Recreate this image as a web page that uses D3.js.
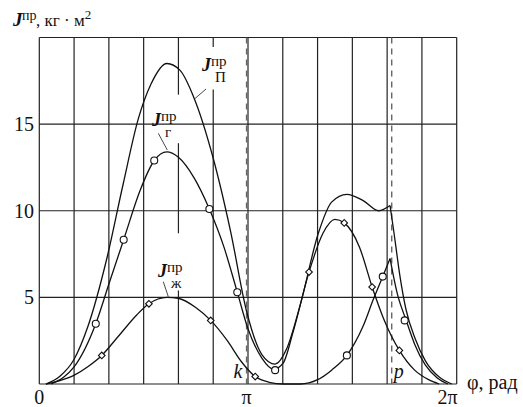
<!DOCTYPE html>
<html>
<head>
<meta charset="utf-8">
<script src="https://cdn.jsdelivr.net/npm/d3@7"></script>
<style>
  body { margin: 0; background: #fff; }
  svg text { font-family: "Liberation Serif", Tinos, "Times New Roman", "DejaVu Serif", serif; fill: #111; }
</style>
</head>
<body>
<script>
var width = 523;
var height = 407;

// J_пр_П (upper curve), phi in rad, J in kg*m^2
var jpPhi = [0.10, 0.31, 0.52, 0.73, 1.02, 1.26, 1.49, 1.68, 1.92, 2.12, 2.32, 2.62, 2.88, 3.12, 3.35, 3.55, 3.72, 3.93, 4.20, 4.40, 4.63, 4.87, 5.11, 5.28, 5.34, 5.43, 5.52, 5.66, 5.81, 6.02, 6.21];
var jpVal = [0, 0.45, 1.4, 3.3, 7.3, 11.5, 15.3, 17.3, 18.5, 18.1, 16.6, 13.0, 8.8, 4.2, 1.7, 1.15, 2.0, 4.6, 8.7, 10.5, 10.95, 10.6, 10.0, 10.3, 8.7, 6.2, 4.3, 2.6, 1.35, 0.4, 0];

// J_пр_г (middle curve)
var jgPhi = [0.18, 0.37, 0.52, 0.85, 1.05, 1.27, 1.52, 1.73, 1.92, 2.09, 2.33, 2.56, 2.78, 2.98, 3.14, 3.35, 3.53, 3.67, 3.82, 4.06, 4.27, 4.45, 4.59, 4.82, 5.01, 5.18, 5.42, 5.65, 5.86, 6.02];
var jgVal = [0, 0.4, 0.97, 3.48, 5.8, 8.33, 11.2, 12.9, 13.4, 13.1, 11.9, 10.1, 7.9, 5.3, 3.2, 1.5, 0.85, 1.2, 3.0, 6.46, 8.7, 9.5, 9.3, 7.9, 5.6, 3.8, 1.94, 0.8, 0.25, 0];

// J_пр_ж (lower curve)
var jzPhi = [0.10, 0.31, 0.52, 0.73, 0.94, 1.20, 1.47, 1.65, 1.92, 2.09, 2.36, 2.58, 2.83, 3.04, 3.25, 3.46, 3.67, 3.93, 4.19, 4.40, 4.63, 4.87, 5.03, 5.17, 5.28, 5.39, 5.52, 5.65, 5.81, 5.99, 6.15];
var jzVal = [0, 0.2, 0.5, 1.0, 1.65, 2.8, 4.0, 4.63, 5.0, 4.95, 4.4, 3.67, 2.5, 1.3, 0.43, 0.1, 0, 0, 0.25, 0.8, 1.65, 3.3, 4.9, 6.2, 7.24, 5.2, 3.7, 2.3, 1.1, 0.35, 0];

// sharp peaks at the p position
var cuspPhi = 5.28;

// marked points
var circlePhi = [0.85, 1.27, 1.73, 2.56, 2.98, 3.55, 4.63, 5.17, 5.50];
var circleVal = [3.48, 8.33, 12.9, 10.1, 5.3, 0.8, 1.65, 6.2, 3.67];
var diamondPhi = [0.94, 1.65, 2.58, 3.25, 4.06, 4.59, 5.01, 5.42];
var diamondVal = [1.65, 4.63, 3.67, 0.43, 6.46, 9.3, 5.6, 1.94];

// dashed positions k and p
var markNames = ['k', 'p'];
var markPhi = [3.12, 5.305];

// ticks
var yTicks = [5, 10, 15];
var xTickVals = [0, Math.PI, 2 * Math.PI];
var xTickLabels = ['0', 'π', '2π'];

var x = d3.scaleLinear().domain([0, 2 * Math.PI]).range([39.3, 456.7]);
var y = d3.scaleLinear().domain([0, 20]).range([384, 37.5]);

var svg = d3.select('body').append('svg')
    .attr('width', width)
    .attr('height', height)
    .attr('font-family', '"Liberation Serif", Tinos, "Times New Roman", "DejaVu Serif", serif');

// grid: verticals every pi/6, some broken around the labels
var gaps = { 4: [[13.9, 16.7], [5.4, 8.7]], 5: [[17.0, 19.45]] };
var grid = svg.append('g').attr('stroke', '#222').attr('stroke-width', 1.2);
d3.range(13).forEach(function(i) {
  var segs = [[0, 20]];
  (gaps[i] || []).forEach(function(g) {
    var out = [];
    segs.forEach(function(s) {
      if (g[1] <= s[0] || g[0] >= s[1]) { out.push(s); return; }
      if (g[0] > s[0]) out.push([s[0], g[0]]);
      if (g[1] < s[1]) out.push([g[1], s[1]]);
    });
    segs = out;
  });
  segs.forEach(function(s) {
    grid.append('line')
      .attr('x1', x(i * Math.PI / 6)).attr('x2', x(i * Math.PI / 6))
      .attr('y1', y(s[0])).attr('y2', y(s[1]));
  });
});
[0, 5, 10, 15, 20].forEach(function(v) {
  grid.append('line')
    .attr('x1', x(0)).attr('x2', x(2 * Math.PI))
    .attr('y1', y(v)).attr('y2', y(v));
});

// dashed k, p lines
svg.append('g').selectAll('line')
    .data(markPhi)
  .enter().append('line')
    .attr('x1', function(d) { return x(d); })
    .attr('x2', function(d) { return x(d); })
    .attr('y1', y(20)).attr('y2', y(0))
    .attr('stroke', '#666')
    .attr('stroke-width', 1.4)
    .attr('stroke-dasharray', '6,5');

// curves
var line = d3.line()
    .x(function(d) { return x(d[0]); })
    .y(function(d) { return y(d[1]); })
    .curve(d3.curveMonotoneX);

function pieces(phi, val, cusp) {
  var pts = d3.zip(phi, val);
  if (cusp == null) return [pts];
  return [pts.filter(function(d) { return d[0] <= cusp; }),
          pts.filter(function(d) { return d[0] >= cusp; })];
}

var curves = []
  .concat(pieces(jpPhi, jpVal, cuspPhi))
  .concat(pieces(jgPhi, jgVal, null))
  .concat(pieces(jzPhi, jzVal, cuspPhi));

svg.append('g').selectAll('path')
    .data(curves)
  .enter().append('path')
    .attr('d', line)
    .attr('fill', 'none')
    .attr('stroke', '#111')
    .attr('stroke-width', 1.3);

// markers
svg.append('g').selectAll('circle')
    .data(d3.zip(circlePhi, circleVal))
  .enter().append('circle')
    .attr('cx', function(d) { return x(d[0]); })
    .attr('cy', function(d) { return y(d[1]); })
    .attr('r', 3.5)
    .attr('fill', '#fff')
    .attr('stroke', '#111')
    .attr('stroke-width', 1.1);

svg.append('g').selectAll('path')
    .data(d3.zip(diamondPhi, diamondVal))
  .enter().append('path')
    .attr('d', d3.symbol(d3.symbolSquare, 22))
    .attr('transform', function(d) { return 'translate(' + x(d[0]) + ',' + y(d[1]) + ') rotate(45)'; })
    .attr('fill', '#fff')
    .attr('stroke', '#111')
    .attr('stroke-width', 1.1);

// tick labels
svg.append('g').selectAll('text')
    .data(yTicks)
  .enter().append('text')
    .attr('x', 34)
    .attr('y', function(d) { return y(d); })
    .attr('dy', '0.35em')
    .attr('text-anchor', 'end')
    .attr('font-size', 20)
    .text(function(d) { return d; });

svg.append('g').selectAll('text')
    .data(xTickVals)
  .enter().append('text')
    .attr('x', function(d, i) { return i === 2 ? x(d) + 1 : x(d) - (i === 1 ? 1.5 : 0); })
    .attr('y', 404)
    .attr('text-anchor', function(d, i) { return i === 2 ? 'end' : 'middle'; })
    .attr('font-size', 20)
    .text(function(d, i) { return xTickLabels[i]; });

svg.append('text')
    .attr('x', 467).attr('y', 389)
    .attr('font-size', 20)
    .text('φ, рад');

// k, p names
svg.append('g').selectAll('text')
    .data(markNames)
  .enter().append('text')
    .attr('x', function(d, i) { return i === 0 ? x(markPhi[i]) - 13 : x(markPhi[i]) + 2; })
    .attr('y', 378)
    .attr('font-size', 20)
    .attr('font-style', 'italic')
    .text(function(d) { return d; });

// y title
var yt = svg.append('text').attr('y', 26);
yt.append('tspan').attr('x', 13).attr('font-size', 19).attr('font-weight', 'bold').attr('font-style', 'italic').text('J');
yt.append('tspan').attr('x', 22).attr('dy', -6).attr('font-size', 14).text('пр');
yt.append('tspan').attr('x', 36).attr('dy', 6).attr('font-size', 17).text(', кг · м');
yt.append('tspan').attr('dy', -7).attr('font-size', 13).text('2');

// curve labels: J with пр over and index under
function curveLabel(jx, jy, sub, leader) {
  var g = svg.append('g');
  g.append('text').attr('x', jx).attr('y', jy)
    .attr('font-size', 18).attr('font-weight', 'bold').attr('font-style', 'italic').text('J');
  g.append('text').attr('x', jx + 9).attr('y', jy - 5)
    .attr('font-size', 15).text('пр');
  g.append('text').attr('x', jx + 13).attr('y', jy + 11)
    .attr('font-size', 15).text(sub);
  g.append('line')
    .attr('x1', leader[0]).attr('y1', leader[1])
    .attr('x2', leader[2]).attr('y2', leader[3])
    .attr('stroke', '#333').attr('stroke-width', 0.9);
}
curveLabel(202, 71, 'П', [206, 89, 195, 98.5]);
curveLabel(152, 126, 'г', [158.3, 133.3, 167.3, 150]);
curveLabel(158, 277, 'ж', [163.3, 281.7, 168.3, 296.7]);
</script>
</body>
</html>
